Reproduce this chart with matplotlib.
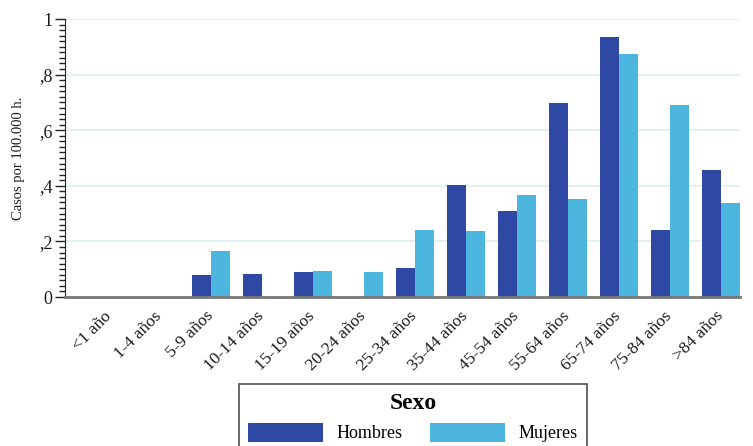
import matplotlib
matplotlib.use("Agg")
import matplotlib.pyplot as plt
import matplotlib.transforms as mtransforms
import numpy as np
from matplotlib.ticker import MultipleLocator

categories = ["<1 año", "1-4 años", "5-9 años", "10-14 años", "15-19 años", "20-24 años",
              "25-34 años", "35-44 años", "45-54 años", "55-64 años", "65-74 años",
              "75-84 años", ">84 años"]
hombres = [0, 0, 0.079, 0.083, 0.090, 0, 0.104, 0.403, 0.309, 0.698, 0.935, 0.241, 0.457]
mujeres = [0, 0, 0.165, 0, 0.094, 0.090, 0.241, 0.237, 0.367, 0.353, 0.874, 0.691, 0.338]
yticks = [0, 0.2, 0.4, 0.6, 0.8, 1.0]
ytick_labels = ["0", ",2", ",4", ",6", ",8", "1"]

plt.rcParams['font.family'] = ['Liberation Serif', 'DejaVu Serif']

fig = plt.figure(figsize=(7.53, 4.46), dpi=100)
ax = fig.add_axes([65/753, 1-297/446, (740-65)/753, (297-19)/446])

x = np.arange(len(categories))
w = 0.373
c_h = "#2e48a3"
c_m = "#4db6de"
b1 = ax.bar(x - w/2, hombres, w, color=c_h, label="Hombres", zorder=3)
b2 = ax.bar(x + w/2, mujeres, w, color=c_m, label="Mujeres", zorder=3)

ax.set_xlim(-0.863, 12.373)
ax.set_ylim(0, 1)
ax.set_yticks(yticks)
ax.set_yticklabels(ytick_labels, fontsize=13, color='#1a1a1a')
ax.yaxis.set_minor_locator(MultipleLocator(0.02))
ax.tick_params(axis='y', which='major', length=7, width=1, color='#222222', pad=2)
ax.tick_params(axis='y', which='minor', length=4, width=1, color='#222222')
for yv in yticks[1:]:
    ax.axhline(yv, color='#e3f1f4', lw=1.5, zorder=1)

ax.set_xticks(x)
ax.set_xticklabels(categories, rotation=45, ha='right', rotation_mode='anchor',
                   fontsize=12.5, color='#1a1a1a')
ax.tick_params(axis='x', length=0, pad=8)
offset = mtransforms.ScaledTranslation(-6/100, 0, fig.dpi_scale_trans)
for lab in ax.get_xticklabels():
    lab.set_transform(lab.get_transform() + offset)

ax.spines['top'].set_visible(False)
ax.spines['right'].set_visible(False)
ax.spines['left'].set_color('#222222')
ax.spines['bottom'].set_color('#777777')
ax.spines['bottom'].set_linewidth(2)
ax.spines['bottom'].set_zorder(4)

ax.set_ylabel("Casos por 100.000 h.", fontsize=10.5, labelpad=10, color='#1a1a1a')

leg = fig.legend(handles=[b1, b2], labels=["Hombres", "Mujeres"], ncol=2,
                 title="Sexo", loc='upper left',
                 bbox_to_anchor=(239/753, 1-384/446),
                 fontsize=13, title_fontsize=17,
                 frameon=True, fancybox=False, edgecolor='#222222',
                 handlelength=4.15, handleheight=1.2, handletextpad=0.75,
                 columnspacing=1.55, borderpad=0.5, borderaxespad=0)
leg.get_title().set_fontweight('bold')
leg.get_frame().set_linewidth(1.2)

fig.savefig("out.png", dpi=100)
